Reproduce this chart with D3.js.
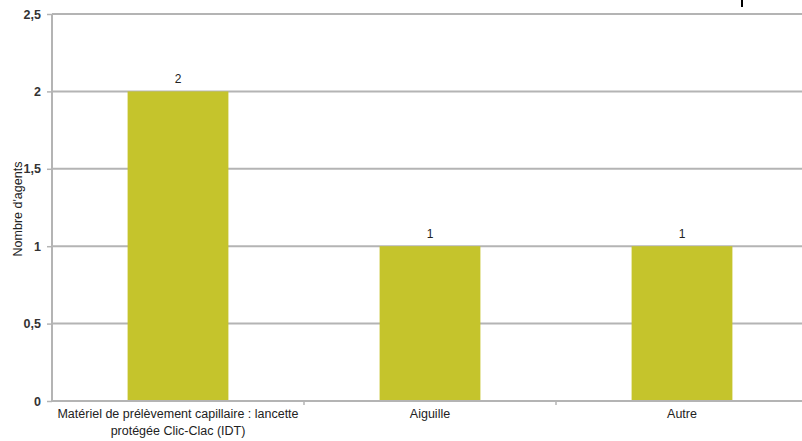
<!DOCTYPE html>
<html><head><meta charset="utf-8">
<script src="https://cdn.jsdelivr.net/npm/d3@7"></script>
<style>body{margin:0;background:#fff}svg{display:block}text{font-family:"Liberation Sans",Arial,sans-serif}</style>
</head><body><svg id="c" width="802" height="441"></svg>
<script>
const categories = ["Matériel de prélèvement capillaire : lancette\nprotégée Clic-Clac (IDT)", "Aiguille", "Autre"];
const values = [2, 1, 1];
const yTicks = [0, 0.5, 1, 1.5, 2, 2.5];
const yTitle = "Nombre d'agents";

(function () {
const svg = d3.select("#c");
const mLeft = 52, mRight = 808, mTop = 14, mBottom = 401;
const x = d3.scaleBand().domain(categories).range([mLeft, mRight]).paddingInner(0.6).paddingOuter(0.3);
const xb = d3.scaleBand().domain(categories).range([mLeft, mRight]);
const y = d3.scaleLinear().domain([0, 2.5]).range([mBottom, mTop]);
const fmt = d => String(d).replace(".", ",");

// gridlines
svg.append("g").selectAll("line").data(yTicks.filter(d => d > 0)).join("line")
  .attr("x1", mLeft).attr("x2", 802).attr("y1", d => y(d)).attr("y2", d => y(d))
  .attr("stroke", "#b4b4b4").attr("stroke-width", 2);

// bars
svg.append("g").selectAll("rect").data(values).join("rect")
  .attr("x", (d, i) => x(categories[i])).attr("width", x.bandwidth())
  .attr("y", d => y(d)).attr("height", d => y(0) - y(d))
  .attr("fill", "#c5c42c");

// y axis
const ya = svg.append("g").attr("transform", `translate(${mLeft},0)`)
  .call(d3.axisLeft(y).tickValues(yTicks).tickFormat(fmt).tickSize(5).tickPadding(6));
ya.select(".domain").attr("stroke", "#b4b4b4").attr("stroke-width", 2).attr("d", `M0,${mTop}V${mBottom}`);
ya.selectAll(".tick line").attr("stroke", "#b4b4b4").attr("stroke-width", 1.5);
ya.selectAll(".tick text").attr("font-size", 12.5).attr("fill", "#333").attr("font-weight", "bold")
  .attr("font-family", "'Liberation Sans',Arial,sans-serif");

// x axis
const xa = svg.append("g").attr("transform", `translate(0,${mBottom})`);
xa.append("line").attr("x1", mLeft).attr("x2", 802).attr("stroke", "#b4b4b4").attr("stroke-width", 2);
xa.selectAll("line.t").data(categories.slice(1)).join("line").attr("class", "t")
  .attr("x1", d => xb(d)).attr("x2", d => xb(d)).attr("y1", 0).attr("y2", 4)
  .attr("stroke", "#b4b4b4").attr("stroke-width", 1.5);
xa.selectAll("text").data(categories).join("text")
  .attr("text-anchor", "middle").attr("font-size", 12.5).attr("fill", "#222")
  .attr("transform", d => `translate(${x(d) + x.bandwidth() / 2},17)`)
  .each(function(d) {
    const lines = d.split("\n");
    d3.select(this).selectAll("tspan").data(lines).join("tspan")
      .attr("x", 0).attr("dy", (l, i) => i ? 17 : 0).text(l => l);
  });

// value labels
svg.append("g").selectAll("text").data(values).join("text")
  .attr("x", (d, i) => x(categories[i]) + x.bandwidth() / 2).attr("y", d => y(d) - 8)
  .attr("text-anchor", "middle").attr("font-size", 12).attr("fill", "#222").text(d => d);

// y title
svg.append("text").attr("transform", "translate(22,209) rotate(-90)")
  .attr("text-anchor", "middle").attr("font-size", 12.5).attr("fill", "#222").text(yTitle);

// small mark at top right
svg.append("line").attr("x1", 742).attr("x2", 742).attr("y1", 0).attr("y2", 7)
  .attr("stroke", "#000").attr("stroke-width", 2);
})();
</script></body></html>
